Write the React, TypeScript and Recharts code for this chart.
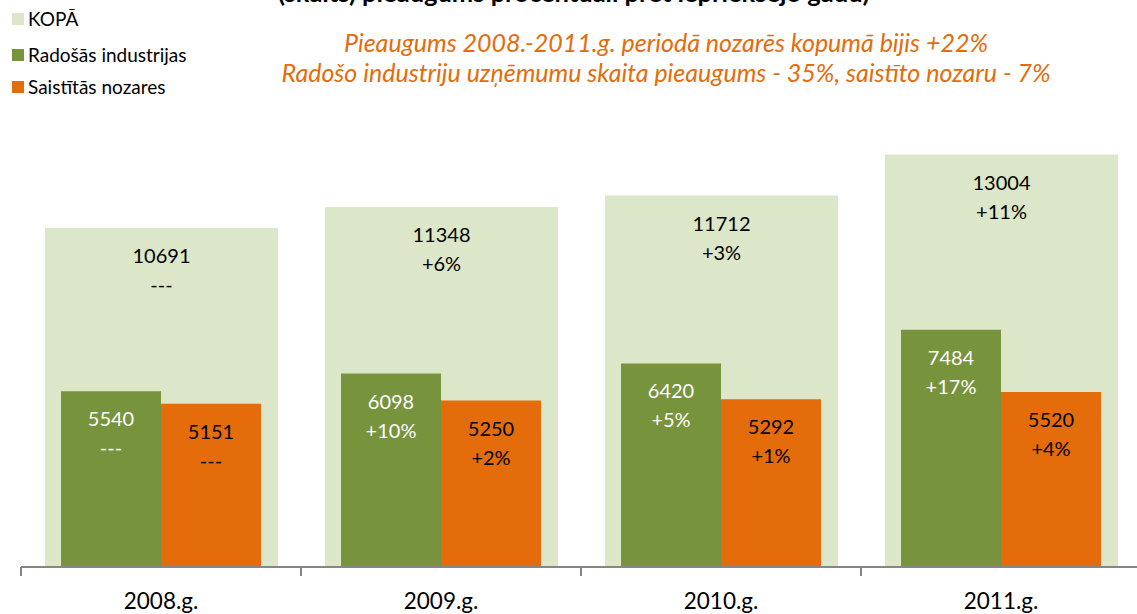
import React from 'react';
import { BarChart, Bar, XAxis, YAxis, LabelList } from 'recharts';

const years = ['2008.g.', '2009.g.', '2010.g.', '2011.g.'];
const kopa = [10691, 11348, 11712, 13004];
const kopaPct = ['---', '+6%', '+3%', '+11%'];
const rados = [5540, 6098, 6420, 7484];
const radosPct = ['---', '+10%', '+5%', '+17%'];
const saist = [5151, 5250, 5292, 5520];
const saistPct = ['---', '+2%', '+1%', '+4%'];

const data = years.map((year, i) => ({
  year,
  kopa: kopa[i],
  rados: rados[i],
  saist: saist[i],
}));

const FONT = 'Lato, "Open Sans", sans-serif';
const CHART_W = 1150;
const CHART_H = 614;
const AXIS_H = 30;
const MARGIN = { top: 123, right: 9, bottom: 17, left: 21 };
const BAND = (CHART_W - MARGIN.left - MARGIN.right) / years.length;
const BASE_Y = CHART_H - MARGIN.bottom - AXIS_H;

const makeLabel = (pcts: string[], color: string) => (props: any) => {
  const { x, y, width, value, index } = props;
  const cx = x + width / 2;
  return (
    <g>
      <text x={cx} y={y + 27} textAnchor="middle" dominantBaseline="central"
        fill={color} fontSize={20} fontFamily={FONT}>{value}</text>
      <text x={cx} y={y + 56} textAnchor="middle" dominantBaseline="central"
        fill={color} fontSize={20} fontFamily={FONT}>{pcts[index]}</text>
    </g>
  );
};

const YearTick = (props: any) => {
  const { x, payload } = props;
  return (
    <g>
      <line x1={x - BAND / 2} x2={x - BAND / 2} y1={BASE_Y} y2={BASE_Y + 9} stroke="#868686" strokeWidth={2} />
      <text x={x} y={BASE_Y + 33} textAnchor="middle" dominantBaseline="central"
        fill="#000" fontSize={22.5} fontFamily={FONT}>{payload.value}</text>
    </g>
  );
};

const legend = [
  { name: 'KOPĀ', color: '#DCE6C9' },
  { name: 'Radošās industrijas', color: '#77933C' },
  { name: 'Saistītās nozares', color: '#E46C0A' },
];
const legendTops = [7, 43, 75];

export default function App() {
  return (
    <div style={{ position: 'fixed', left: 0, top: 0, width: 1137, height: 614, overflow: 'hidden', background: '#fff', fontFamily: FONT }}>
      <div style={{ position: 'absolute', left: 278, top: -23, fontWeight: 700, fontSize: 25.5, color: '#000', whiteSpace: 'nowrap' }}>
        (skaits) pieaugums procentuāli pret iepriekšējo gadu)
      </div>
      {legend.map((l, i) => (
        <div key={l.name} style={{ position: 'absolute', left: 12, top: legendTops[i], display: 'flex', alignItems: 'center', fontSize: 19, color: '#000', whiteSpace: 'nowrap' }}>
          <span style={{ display: 'inline-block', width: 12, height: 12, background: l.color, marginRight: 4 }} />
          {l.name}
        </div>
      ))}
      <div style={{ position: 'absolute', left: 196, top: 27, width: 940, textAlign: 'center', fontStyle: 'italic', fontSize: 25, lineHeight: '30px', color: '#E46C0A', whiteSpace: 'nowrap' }}>
        <div>Pieaugums 2008.-2011.g. periodā nozarēs kopumā bijis +22%</div>
        <div>Radošo industriju uzņēmumu skaita pieaugums - 35%, saistīto nozaru - 7%</div>
      </div>
      <div style={{ position: 'absolute', left: 0, top: 0 }}>
        <BarChart width={CHART_W} height={CHART_H} data={data} margin={MARGIN} barGap={0}>
          <XAxis xAxisId="total" dataKey="year" hide />
          <XAxis xAxisId="main" dataKey="year" height={AXIS_H} tick={<YearTick />} tickLine={false}
            axisLine={{ stroke: '#868686', strokeWidth: 2 }} interval={0} />
          <YAxis domain={[0, 14000]} hide />
          <Bar xAxisId="total" dataKey="kopa" name="KOPĀ" fill="#DCE6C9" barSize={233} isAnimationActive={false}>
            <LabelList dataKey="kopa" content={makeLabel(kopaPct, '#000')} />
          </Bar>
          <Bar xAxisId="main" dataKey="rados" name="Radošās industrijas" fill="#77933C" barSize={100} isAnimationActive={false}>
            <LabelList dataKey="rados" content={makeLabel(radosPct, '#fff')} />
          </Bar>
          <Bar xAxisId="main" dataKey="saist" name="Saistītās nozares" fill="#E46C0A" barSize={100} isAnimationActive={false}>
            <LabelList dataKey="saist" content={makeLabel(saistPct, '#000')} />
          </Bar>
        </BarChart>
      </div>
    </div>
  );
}
